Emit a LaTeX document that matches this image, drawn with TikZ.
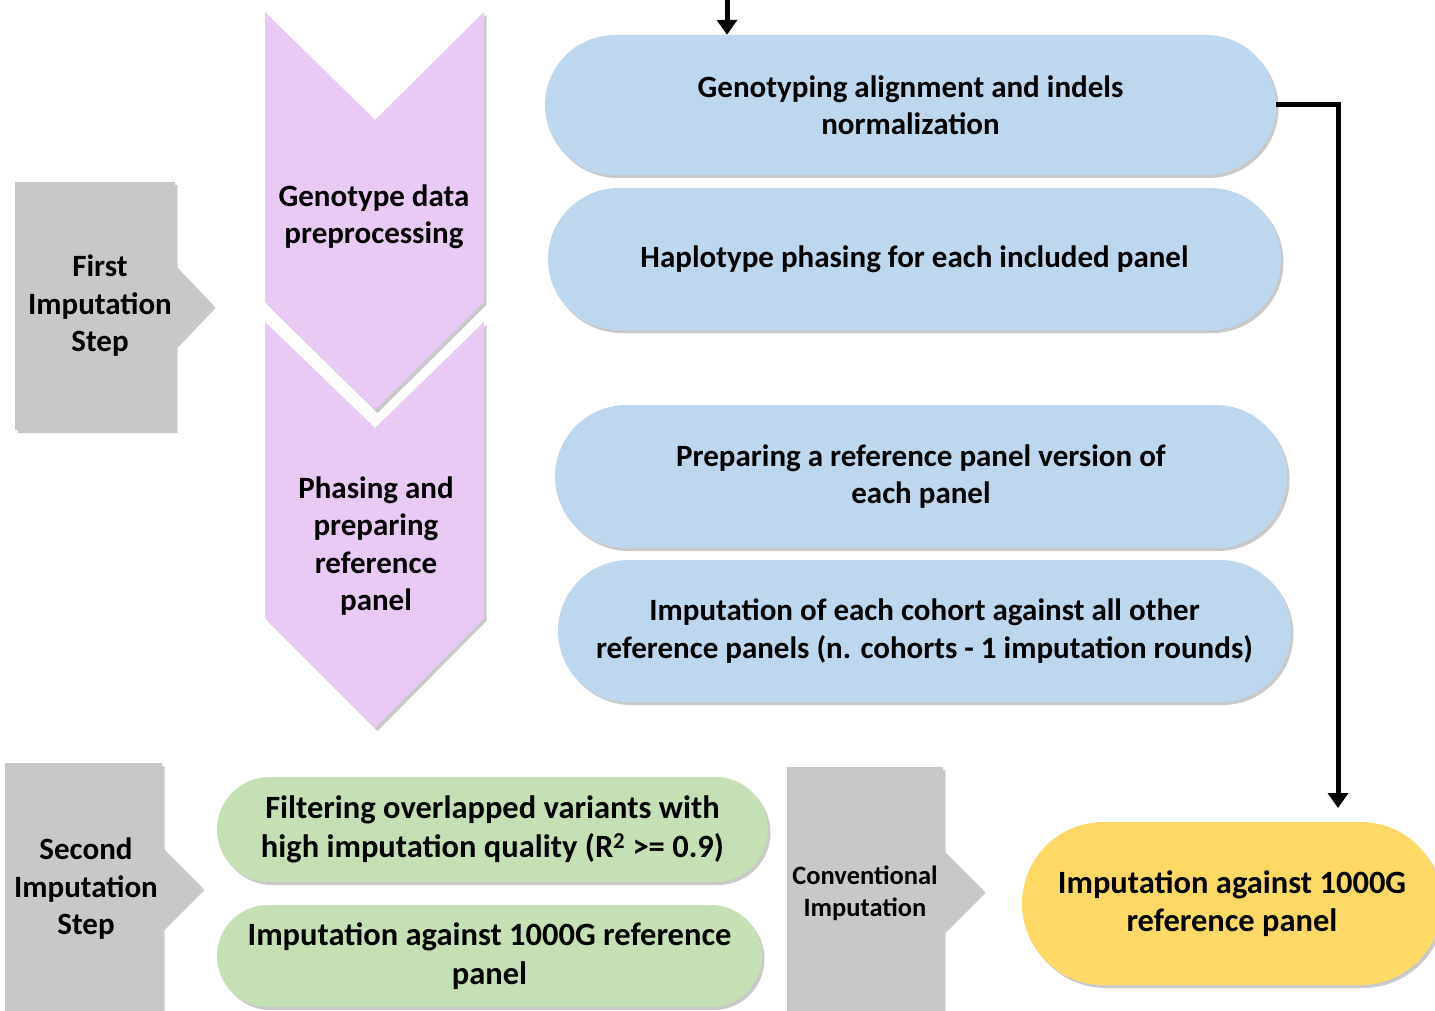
\documentclass[tikz,border=0pt]{standalone}
\usepackage{fontspec}
\setmainfont{Carlito}
\usetikzlibrary{shapes.misc,shadows,arrows.meta}
\definecolor{grayC}{RGB}{200,200,200}
\definecolor{purpC}{RGB}{232,202,244}
\definecolor{blueC}{RGB}{189,215,238}
\definecolor{greenC}{RGB}{197,224,180}
\definecolor{yellC}{RGB}{255,217,102}
\begin{document}
\begin{tikzpicture}[x=1pt,y=-1pt,
  font=\bfseries\fontsize{31}{37.5}\selectfont,
  big/.style={font=\bfseries\fontsize{32.5}{38.5}\selectfont},
  shad/.style={drop shadow={shadow xshift=2.5pt,shadow yshift=-3pt,opacity=0.3,fill=black!70}},
  pill/.style={rounded rectangle, shad, inner sep=0pt, align=center},
  txt/.style={align=center, inner sep=0pt},
  conn/.style={line width=5pt, -{Triangle[length=15pt,width=20pt]}}]
\useasboundingbox (0,0) rectangle (1435,1011);

% gray step arrows
\fill[grayC, shad] (15,182) -- (175,182) -- (175,265) -- (213,305) -- (175,345) -- (175,430) -- (15,430) -- cycle;
\node[txt] (s1) at (100,306) {First\\Imputation\\Step};
\fill[grayC, shad] (5,763) -- (162,763) -- (162,847) -- (202,887) -- (162,927) -- (162,1030) -- (5,1030) -- cycle;
\node[txt] (s2) at (86,889) {Second\\Imputation\\Step};
\fill[grayC, shad] (787,767) -- (943,767) -- (943,850) -- (983,890) -- (943,930) -- (943,1030) -- (787,1030) -- cycle;
\node[txt, font=\bfseries\fontsize{26.5}{32}\selectfont] (s3) at (865,893) {Conventional\\Imputation};

% purple chevrons
\fill[purpC, shad] (265,12) -- (375,120) -- (484,12) -- (484,302) -- (375,410) -- (265,302) -- cycle;
\node[txt] (p1) at (374,217) {Genotype data\\preprocessing};
\fill[purpC, shad] (265,322) -- (375,428) -- (484,322) -- (484,618) -- (375,728) -- (265,618) -- cycle;
\node[txt] (p2) at (376,546) {Phasing and\\preparing\\reference\\panel};

% blue pills
\node[pill, fill=blueC, minimum width=731pt, minimum height=140pt] (b1) at (910.5,105) {Genotyping alignment and indels\\normalization};
\node[pill, fill=blueC, minimum width=733pt, minimum height=142pt] (b2) at (914.5,259) {Haplotype phasing for each included panel};
\node[pill, fill=blueC, minimum width=732pt, minimum height=143pt] (b3) at (921,476.5) {Preparing a reference panel version of\\each panel};
\node[pill, fill=blueC, minimum width=733pt, minimum height=142pt] (b4) at (924.5,631) {Imputation of each cohort against all other\\reference panels (n. cohorts - 1 imputation rounds)};

% green pills
\node[pill, big, fill=greenC, minimum width=551pt, minimum height=105pt] (g1) at (492.5,829.5) {Filtering overlapped variants with\\high imputation quality (R\textsuperscript{2} >= 0.9)};
\node[pill, big, fill=greenC, minimum width=545pt, minimum height=102pt] (g2) at (489.5,956) {Imputation against 1000G reference\\panel};

% yellow
\node[pill, big, fill=yellC, minimum width=420pt, minimum height=163pt] (y1) at (1232,903.5) {Imputation against 1000G\\reference panel};

% connectors
\coordinate (topin) at (727,-5);
\draw[conn] (topin) -- (topin |- b1.north);
\coordinate (yend) at (1338,808);
\draw[conn] (b1.east) -| (yend);
\end{tikzpicture}
\end{document}
